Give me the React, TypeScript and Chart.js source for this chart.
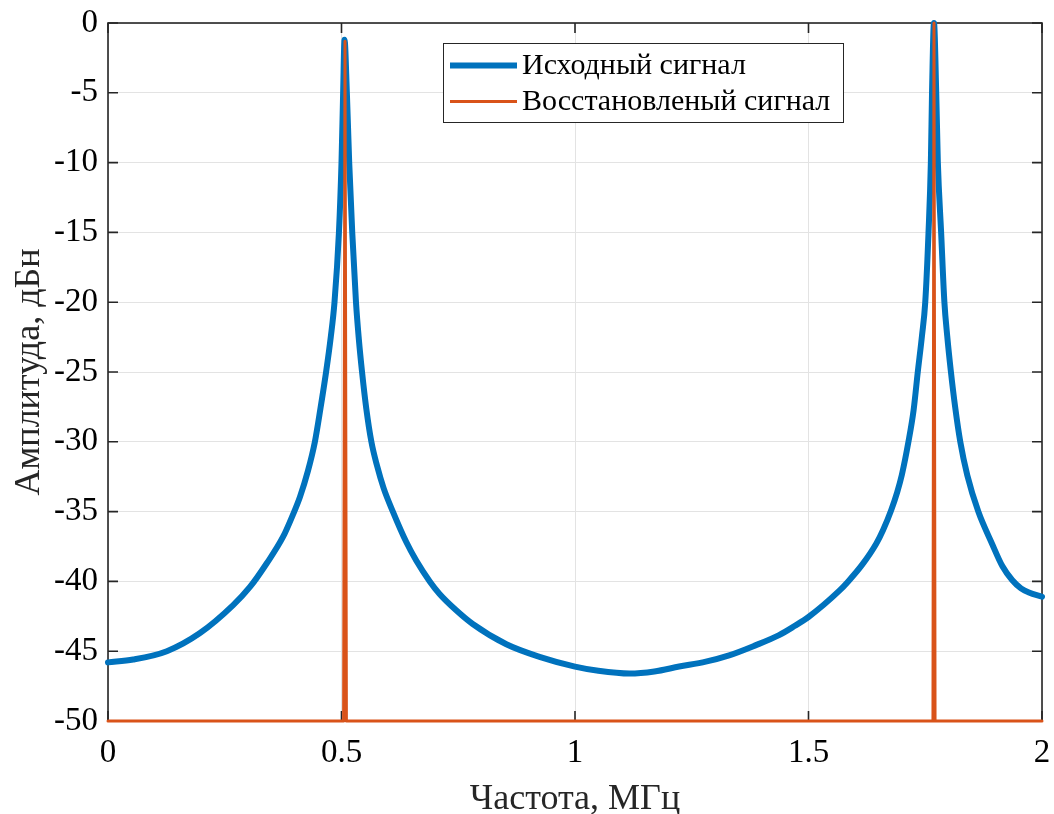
import React, { useEffect, useRef } from "react";
import { Chart, registerables } from "chart.js";

Chart.register(...registerables);

// Исходный сигнал (blue)
const blueFreq = [
  0.0, 0.054, 0.126, 0.197, 0.268, 0.304, 0.34, 0.375, 0.395, 0.411, 0.428, 0.443, 0.455,
  0.467, 0.477, 0.485, 0.4945, 0.5, 0.5035, 0.5065, 0.5115, 0.5165, 0.523, 0.531, 0.537,
  0.544, 0.553, 0.564, 0.576, 0.59, 0.61, 0.639, 0.66, 0.689, 0.71, 0.745, 0.781, 0.853,
  0.924, 1.0, 1.05, 1.117, 1.17, 1.223, 1.28, 1.33, 1.385, 1.437, 1.47, 1.5, 1.565, 1.585,
  1.615, 1.645, 1.66, 1.677, 1.69, 1.7, 1.714, 1.725, 1.734, 1.743, 1.75, 1.757, 1.762,
  1.7645, 1.7687, 1.7735, 1.777, 1.784, 1.791, 1.797, 1.805, 1.814, 1.825, 1.84, 1.8636,
  1.893, 1.915, 1.936, 1.955, 1.972, 2.0,
];
const blueDb = [
  -45.8, -45.6, -45.0, -43.7, -41.7, -40.4, -38.7, -36.8, -35.3, -33.95, -32.1, -30.0, -27.6,
  -25.0, -22.5, -20.0, -15.0, -10.0, -5.0, -1.2, -5, -10, -15, -20, -22.6,
  -25, -27.6, -30, -31.7, -33.3, -35, -37.2, -38.5, -40, -40.9, -42.05, -43.05, -44.5,
  -45.4, -46.1, -46.4, -46.6, -46.45, -46.1, -45.75, -45.3, -44.6, -43.85, -43.2, -42.55, -40.7, -40,
  -38.8, -37.3, -36.3, -34.9, -33.6, -32.35, -30, -27.75, -25, -22.4, -20, -15, -10,
  -5, 0, -5, -10, -15, -20, -22.4, -25, -27.5, -30, -32.4, -35,
  -37.3, -38.9, -39.9, -40.5, -40.8, -41.1,
];

// Восстановленый сигнал (red)
const redFreq = [0, 0.5045, 0.5075, 0.5105, 1.7665, 1.7687, 1.771, 2.0];
const redDb = [-50, -50, -1.3, -50, -50, 0, -50, -50];

const seriesLabels = ["Исходный сигнал", "Восстановленый сигнал"];
const xTickValues = [0, 0.5, 1, 1.5, 2];
const yTickValues = [-50, -45, -40, -35, -30, -25, -20, -15, -10, -5, 0];

const xTitle = "Частота, МГц";
const yTitle = "Амплитуда, дБн";

const FONT = "'Liberation Serif', 'Times New Roman', serif";
const BLUE = "#0072BD";
const RED = "#D95319";
const AXIS = "#262626";

const boxPlugin = {
  id: "matlabBox",
  beforeDatasetsDraw(chart: any) {
    const { ctx, chartArea: a, scales } = chart;
    ctx.save();
    ctx.strokeStyle = AXIS;
    ctx.lineWidth = 1.6;
    ctx.strokeRect(a.left, a.top, a.right - a.left, a.bottom - a.top);
    const tl = 10;
    ctx.beginPath();
    for (const v of xTickValues) {
      const x = scales.x.getPixelForValue(v);
      ctx.moveTo(x, a.bottom);
      ctx.lineTo(x, a.bottom - tl);
      ctx.moveTo(x, a.top);
      ctx.lineTo(x, a.top + tl);
    }
    for (const v of yTickValues) {
      const y = scales.y.getPixelForValue(v);
      ctx.moveTo(a.left, y);
      ctx.lineTo(a.left + tl, y);
      ctx.moveTo(a.right, y);
      ctx.lineTo(a.right - tl, y);
    }
    ctx.stroke();
    ctx.restore();
  },
  afterDatasetsDraw(chart: any) {
    const { ctx } = chart;
    ctx.save();
    const bx = 443, by = 43, bw = 400, bh = 79;
    ctx.fillStyle = "#ffffff";
    ctx.fillRect(bx, by, bw, bh);
    ctx.strokeStyle = AXIS;
    ctx.lineWidth = 1;
    ctx.strokeRect(bx + 0.5, by + 0.5, bw, bh);
    const rows = [
      { y: 65.5, color: BLUE, w: 6, text: seriesLabels[0] },
      { y: 101.5, color: RED, w: 3, text: seriesLabels[1] },
    ];
    for (const r of rows) {
      ctx.strokeStyle = r.color;
      ctx.lineWidth = r.w;
      ctx.beginPath();
      ctx.moveTo(450, r.y);
      ctx.lineTo(517, r.y);
      ctx.stroke();
      ctx.fillStyle = "#000000";
      ctx.font = `30px ${FONT}`;
      ctx.textAlign = "left";
      ctx.textBaseline = "middle";
      ctx.fillText(r.text, 522, r.y + 1);
    }
    ctx.restore();
  },
};

const zeroPad = (s: any) => {
  s.paddingTop = 0;
  s.paddingBottom = 0;
  s.paddingLeft = 0;
  s.paddingRight = 0;
};

export default function App() {
  const ref = useRef<HTMLCanvasElement | null>(null);
  useEffect(() => {
    if (!ref.current) return;
    const blue = blueFreq.map((x, i) => ({ x, y: blueDb[i] }));
    const red = redFreq.map((x, i) => ({ x, y: redDb[i] }));
    const chart = new Chart(ref.current, {
      type: "line",
      data: {
        datasets: [
          {
            label: seriesLabels[0],
            data: blue,
            borderColor: BLUE,
            borderWidth: 6,
            pointRadius: 0,
            cubicInterpolationMode: "monotone",
            borderCapStyle: "round",
            borderJoinStyle: "round",
            clip: false,
            order: 2,
          },
          {
            label: seriesLabels[1],
            data: red,
            borderColor: RED,
            borderWidth: 3,
            pointRadius: 0,
            tension: 0,
            borderCapStyle: "round",
            borderJoinStyle: "round",
            clip: false,
            order: 1,
          },
        ],
      },
      options: {
        responsive: false,
        animation: false,
        devicePixelRatio: 1,
        layout: { padding: { left: 0, top: 23, right: 12, bottom: 0 } },
        plugins: { legend: { display: false }, tooltip: { enabled: false } },
        scales: {
          x: {
            type: "linear",
            min: 0,
            max: 2,
            afterBuildTicks: (s: any) => {
              s.ticks = xTickValues.map((v) => ({ value: v }));
            },
            afterFit: (s: any) => {
              s.height = 93;
              zeroPad(s);
            },
            ticks: {
              color: "#000000",
              font: { family: FONT, size: 33 },
              padding: 13,
              maxRotation: 0,
              callback: (v: any) => String(v),
            },
            grid: { color: "#e3e3e3", lineWidth: 1, drawTicks: false },
            border: { display: false },
            title: {
              display: true,
              text: xTitle,
              color: "#262626",
              font: { family: FONT, size: 36 },
              padding: { top: 0, bottom: -7 },
            },
          },
          y: {
            type: "linear",
            min: -50,
            max: 0,
            afterBuildTicks: (s: any) => {
              s.ticks = yTickValues.map((v) => ({ value: v }));
            },
            afterFit: (s: any) => {
              s.width = 108;
              zeroPad(s);
            },
            ticks: {
              color: "#000000",
              font: { family: FONT, size: 33 },
              padding: 10,
              callback: (v: any) => String(v),
            },
            grid: { color: "#e3e3e3", lineWidth: 1, drawTicks: false },
            border: { display: false },
            title: {
              display: true,
              text: yTitle,
              color: "#262626",
              font: { family: FONT, size: 36 },
              padding: { top: 8, bottom: 0 },
            },
          },
        },
      },
      plugins: [boxPlugin],
    });
    return () => chart.destroy();
  }, []);
  return (
    <div style={{ position: "absolute", left: 0, top: 0, width: 1054, height: 814, background: "#fff" }}>
      <canvas ref={ref} width={1054} height={814} style={{ width: 1054, height: 814, display: "block" }} />
    </div>
  );
}
